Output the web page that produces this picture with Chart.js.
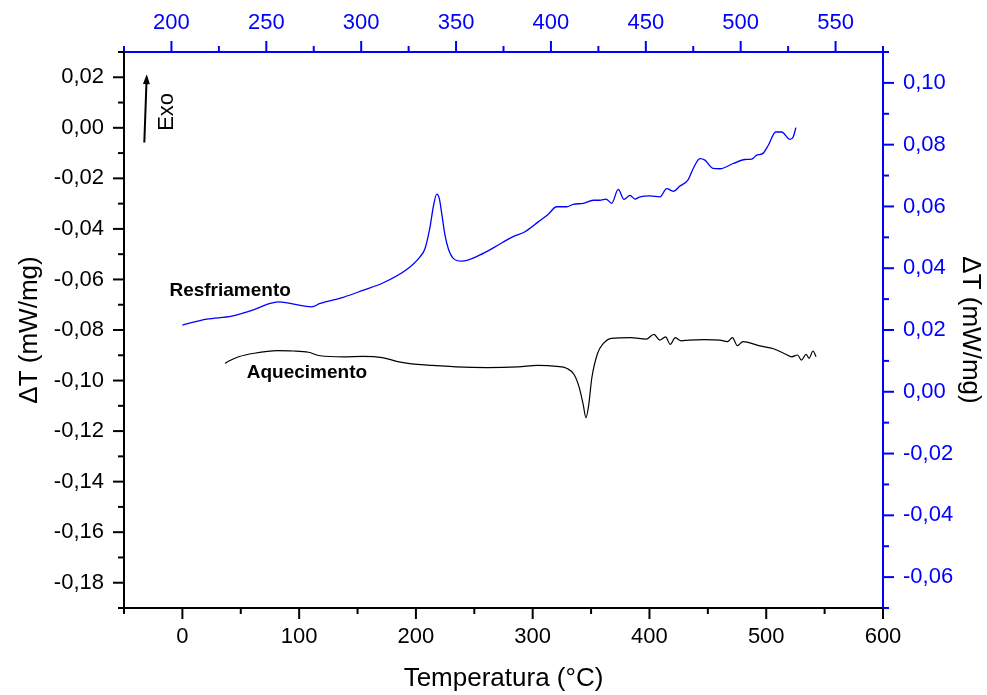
<!DOCTYPE html>
<html>
<head>
<meta charset="utf-8">
<script src="https://cdn.jsdelivr.net/npm/chart.js@4.4.1/dist/chart.umd.min.js"></script>
<style>
  body { margin: 0; background: #fff; }
  #wrap { width: 987px; height: 695px; }
</style>
</head>
<body>
<div id="wrap"><canvas id="dscChart" width="987" height="695"></canvas></div>
<script>
// Resfriamento (blue, right axis)
const coolT = [0, 20.9, 42.3, 60.8, 75.2, 82.2, 92.2, 103.6, 110.8, 117.9, 137.8, 155, 172.1, 192.1, 203.5,
  207.8, 212.1, 214.9, 217.8, 220, 222.1, 224.9, 227.7, 232, 239.2, 254.9, 267.7, 282, 293.4, 304.8, 313.4,
  320.5, 329.1, 334.8, 343.3, 351.9, 357.6, 362.8, 367.6, 373.3, 378.2, 383.3, 387.6, 391.9, 400.4, 409,
  414.7, 420.4, 426.1, 433.2, 437.5, 443.2, 447.5, 454.6, 460.4, 471.8, 481.8, 487.5, 491.8, 496.9, 501.8,
  508.1, 513.2, 520.3, 523.1, 525.4];
const coolDT = [0.0216, 0.0235, 0.0245, 0.0265, 0.0286, 0.0291, 0.0286, 0.0278, 0.0275, 0.0286, 0.0306, 0.0329, 0.0353, 0.0396, 0.0437,
  0.0464, 0.0534, 0.0599, 0.0640, 0.0626, 0.0577, 0.0507, 0.0464, 0.0432, 0.0423, 0.0443, 0.0469, 0.0500, 0.0518, 0.0550, 0.0575,
  0.0599, 0.0599, 0.0607, 0.0610, 0.0620, 0.0620, 0.0624, 0.0610, 0.0655, 0.0623, 0.0636, 0.0624, 0.0631, 0.0634, 0.0631,
  0.0658, 0.0649, 0.0666, 0.0687, 0.0723, 0.0755, 0.0750, 0.0723, 0.0722, 0.0739, 0.0752, 0.0753, 0.0766, 0.0771, 0.0798,
  0.0841, 0.0841, 0.0817, 0.0825, 0.0855];

// Aquecimento (black, left axis)
const heatT = [36.6, 39.9, 48.2, 61.5, 81.4, 94.7, 108, 118, 137.9, 154.5, 171.1, 184.4, 201.1, 214.4, 234.3,
  260.9, 287.5, 304.1, 320.7, 329, 335.7, 340, 343.3, 345.6, 348, 350.6, 355.6, 360.6, 367.3, 383.9, 397.2,
  403.8, 408.8, 413.8, 417.8, 422.1, 427.1, 433.7, 447, 460.3, 466.9, 471, 475.3, 480, 493.6, 506.8, 516.8,
  521.8, 526.8, 530.1, 534.1, 536.7, 540.1, 542.7];
const heatDT = [-0.0932, -0.0923, -0.0906, -0.0892, -0.0882, -0.0883, -0.0888, -0.0902, -0.0906, -0.0904, -0.0909, -0.0925, -0.0936, -0.0940, -0.0946,
  -0.0949, -0.0946, -0.0940, -0.0944, -0.0951, -0.0978, -0.1030, -0.1096, -0.1147, -0.1096, -0.0991, -0.0892, -0.0853, -0.0833, -0.0830, -0.0836,
  -0.0817, -0.0840, -0.0827, -0.0857, -0.0830, -0.0843, -0.0840, -0.0838, -0.0840, -0.0846, -0.0830, -0.0862, -0.0846, -0.0862, -0.0875, -0.0896,
  -0.0906, -0.0899, -0.0919, -0.0896, -0.0912, -0.0883, -0.0906];

// ticks
const xTicks = [-50, 0, 50, 100, 150, 200, 250, 300, 350, 400, 450, 500, 550, 600];
const xLabeled = [0, 100, 200, 300, 400, 500, 600];
const x2Ticks = [175, 200, 225, 250, 275, 300, 325, 350, 375, 400, 425, 450, 475, 500, 525, 550, 575];
const x2Labeled = [200, 250, 300, 350, 400, 450, 500, 550];
const yTicks = [-0.19, -0.18, -0.17, -0.16, -0.15, -0.14, -0.13, -0.12, -0.11, -0.10, -0.09, -0.08, -0.07, -0.06,
  -0.05, -0.04, -0.03, -0.02, -0.01, 0, 0.01, 0.02, 0.03];
const yLabeled = [-0.18, -0.16, -0.14, -0.12, -0.10, -0.08, -0.06, -0.04, -0.02, 0, 0.02];
const y2Ticks = [-0.07, -0.06, -0.05, -0.04, -0.03, -0.02, -0.01, 0, 0.01, 0.02, 0.03, 0.04, 0.05, 0.06, 0.07,
  0.08, 0.09, 0.10, 0.11];
const y2Labeled = [-0.06, -0.04, -0.02, 0, 0.02, 0.04, 0.06, 0.08, 0.10];

const BLUE = '#0000FF';
const FONT = "'Liberation Sans', Arial, sans-serif";

const comma = v => v.toFixed(2).replace('.', ',');

function axisTicks(list, labeled, fmt) {
  return {
    afterBuildTicks: s => { s.ticks = list.map(v => ({ value: v })); },
    callback: v => labeled.includes(v) ? fmt(v) : ''
  };
}

// short and long tick marks, drawn at the scale's own pixel positions
const tickMarks = {
  id: 'tickMarks',
  afterDraw(chart) {
    const ctx = chart.ctx;
    Object.values(chart.scales).forEach(s => {
      ctx.save();
      ctx.strokeStyle = s.options.border.color;
      ctx.lineWidth = 2;
      s.ticks.forEach(t => {
        const p = s.getPixelForValue(t.value);
        const len = t.label ? 11 : 6;
        ctx.beginPath();
        if (s.position === 'left') { ctx.moveTo(s.right, p); ctx.lineTo(s.right - len, p); }
        if (s.position === 'right') { ctx.moveTo(s.left, p); ctx.lineTo(s.left + len, p); }
        if (s.position === 'top') { ctx.moveTo(p, s.bottom); ctx.lineTo(p, s.bottom - len); }
        if (s.position === 'bottom') { ctx.moveTo(p, s.top); ctx.lineTo(p, s.top + len); }
        ctx.stroke();
      });
      ctx.restore();
    });
  }
};

// curve names and the Exo arrow
const notes = {
  id: 'notes',
  afterDraw(chart) {
    const { ctx, scales: { x, y } } = chart;
    ctx.save();
    ctx.fillStyle = '#000';
    ctx.font = 'bold 19px ' + FONT;
    ctx.textBaseline = 'alphabetic';
    ctx.fillText('Resfriamento', x.getPixelForValue(-11.1), y.getPixelForValue(-0.0664));
    ctx.fillText('Aquecimento', x.getPixelForValue(55.1), y.getPixelForValue(-0.0991));

    ctx.font = '22px ' + FONT;
    ctx.translate(x.getPixelForValue(-8.2), y.getPixelForValue(-0.0012));
    ctx.rotate(-Math.PI / 2);
    ctx.fillText('Exo', 0, 0);
    ctx.restore();

    const x0 = x.getPixelForValue(-32.6), y0 = y.getPixelForValue(-0.0058);
    const x1 = x.getPixelForValue(-30.5), y1 = y.getPixelForValue(0.0212);
    const ang = Math.atan2(y1 - y0, x1 - x0);
    ctx.save();
    ctx.strokeStyle = '#000';
    ctx.fillStyle = '#000';
    ctx.lineWidth = 2;
    ctx.beginPath();
    ctx.moveTo(x0, y0);
    ctx.lineTo(x1 - 8 * Math.cos(ang), y1 - 8 * Math.sin(ang));
    ctx.stroke();
    ctx.beginPath();
    ctx.moveTo(x1, y1);
    ctx.lineTo(x1 - 10 * Math.cos(ang) + 3.5 * Math.sin(ang), y1 - 10 * Math.sin(ang) - 3.5 * Math.cos(ang));
    ctx.lineTo(x1 - 10 * Math.cos(ang) - 3.5 * Math.sin(ang), y1 - 10 * Math.sin(ang) + 3.5 * Math.cos(ang));
    ctx.closePath();
    ctx.fill();
    ctx.restore();
  }
};

const tickFont = { family: FONT, size: 22 };
const titleFont = { family: FONT, size: 26 };

new Chart(document.getElementById('dscChart'), {
  type: 'line',
  data: {
    datasets: [
      {
        label: 'Resfriamento',
        data: coolT.map((t, i) => ({ x: t, y: coolDT[i] })),
        borderColor: BLUE,
        borderWidth: 1.3,
        pointRadius: 0,
        cubicInterpolationMode: 'monotone',
        xAxisID: 'x',
        yAxisID: 'y2'
      },
      {
        label: 'Aquecimento',
        data: heatT.map((t, i) => ({ x: t, y: heatDT[i] })),
        borderColor: '#000',
        borderWidth: 1.2,
        pointRadius: 0,
        cubicInterpolationMode: 'monotone',
        xAxisID: 'x',
        yAxisID: 'y'
      }
    ]
  },
  options: {
    responsive: false,
    animation: false,
    layout: { padding: 0 },
    plugins: { legend: { display: false }, tooltip: { enabled: false } },
    scales: {
      x: {
        type: 'linear', position: 'bottom', min: -50, max: 600,
        afterFit: s => { s.height = 87; },
        afterBuildTicks: axisTicks(xTicks, xLabeled, String).afterBuildTicks,
        grid: { display: false, drawTicks: false },
        border: { display: true, color: '#000', width: 2 },
        ticks: { callback: axisTicks(xTicks, xLabeled, String).callback, autoSkip: false, maxRotation: 0,
          padding: 16, color: '#000', font: tickFont },
        title: { display: true, text: 'Temperatura (°C)', color: '#000', font: titleFont, padding: { top: 0, bottom: 1 } }
      },
      x2: {
        type: 'linear', position: 'top', min: 175, max: 575,
        afterFit: s => { s.height = 52; },
        afterBuildTicks: axisTicks(x2Ticks, x2Labeled, String).afterBuildTicks,
        grid: { display: false, drawTicks: false },
        border: { display: true, color: BLUE, width: 2 },
        ticks: { callback: axisTicks(x2Ticks, x2Labeled, String).callback, autoSkip: false, maxRotation: 0,
          padding: 16, color: BLUE, font: tickFont }
      },
      y: {
        type: 'linear', position: 'left', min: -0.19, max: 0.03,
        afterFit: s => { s.width = 124; },
        afterBuildTicks: axisTicks(yTicks, yLabeled, comma).afterBuildTicks,
        grid: { display: false, drawTicks: false },
        border: { display: true, color: '#000', width: 2 },
        ticks: { callback: axisTicks(yTicks, yLabeled, comma).callback, autoSkip: false,
          padding: 20, color: '#000', font: tickFont },
        title: { display: true, text: 'ΔT (mW/mg)', color: '#000', font: titleFont, padding: { top: 14, bottom: 0 } }
      },
      y2: {
        type: 'linear', position: 'right', min: -0.07, max: 0.11,
        afterFit: s => { s.width = 104; },
        afterBuildTicks: axisTicks(y2Ticks, y2Labeled, comma).afterBuildTicks,
        grid: { display: false, drawTicks: false },
        border: { display: true, color: BLUE, width: 2 },
        ticks: { callback: axisTicks(y2Ticks, y2Labeled, comma).callback, autoSkip: false,
          padding: 20, color: BLUE, font: tickFont },
        title: { display: true, text: 'ΔT (mW/mg)', color: '#000', font: titleFont, padding: { top: 1, bottom: 0 } }
      }
    }
  },
  plugins: [tickMarks, notes]
});
</script>
</body>
</html>
